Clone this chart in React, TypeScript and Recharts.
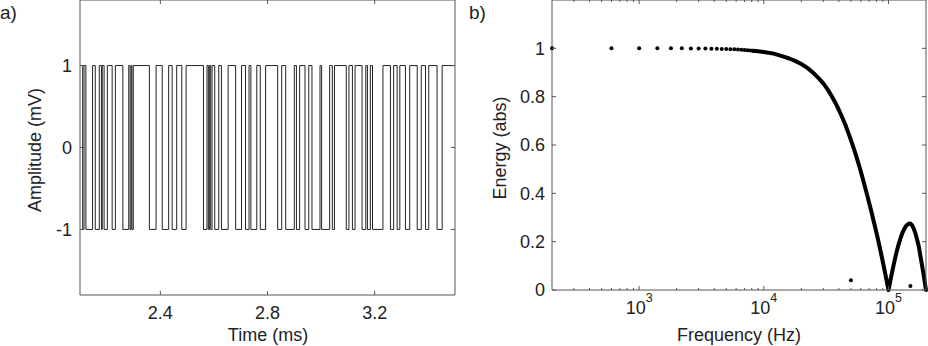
import React from 'react';
import { LineChart, Line, XAxis, YAxis, ComposedChart, Scatter } from 'recharts';

// ---------- Panel a: binary waveform ----------
const waveTimes = [
  2.100, 2.110, 2.115, 2.122, 2.147, 2.157, 2.172, 2.180, 2.183, 2.190,
  2.202, 2.220, 2.232, 2.260, 2.282, 2.287, 2.291, 2.294, 2.299, 2.359,
  2.384, 2.407, 2.431, 2.444, 2.461, 2.480, 2.496, 2.561, 2.574, 2.579,
  2.583, 2.588, 2.593, 2.603, 2.618, 2.628, 2.653, 2.681, 2.703, 2.718,
  2.731, 2.738, 2.760, 2.773, 2.793, 2.838, 2.853, 2.868, 2.900, 2.908,
  2.920, 2.940, 2.954, 2.966, 2.996, 3.002, 3.032, 3.042, 3.050, 3.094,
  3.104, 3.117, 3.127, 3.153, 3.167, 3.173, 3.184, 3.192, 3.231, 3.259,
  3.271, 3.284, 3.294, 3.315, 3.331, 3.359, 3.374, 3.390, 3.402, 3.433,
  3.452, 3.500,
];
const waveLevels = [
  1, -1, 1, -1, 1, -1, 1, -1, 1, -1,
  1, -1, 1, -1, 1, -1, 1, -1, 1, -1,
  1, -1, 1, -1, 1, -1, 1, -1, 1, -1,
  1, -1, 1, -1, 1, -1, 1, -1, 1, -1,
  1, -1, 1, -1, 1, -1, 1, -1, 1, -1,
  1, -1, 1, -1, 1, -1, 1, -1, 1, -1,
  1, -1, 1, -1, 1, -1, 1, -1, 1, -1,
  1, -1, 1, -1, 1, -1, 1, -1, 1, -1,
  1, 1,
];
const timeTicks = [2.4, 2.8, 3.2];
const ampTicks = [-1, 0, 1];

// ---------- Panel b: spectrum ----------
const dotFreqs = [200, 600, 1000, 1400, 1800, 2200, 2600, 3000, 3400, 3800, 4200, 4600, 5000, 5400, 5800, 6200, 6600, 7000, 7400, 7800, 8200];
const dotEnergy = [1, 1, 1, 1, 1, 1, 0.999, 0.999, 0.999, 0.998, 0.998, 0.997, 0.997, 0.996, 0.996, 0.995, 0.994, 0.993, 0.992, 0.991, 0.99];

const curveFreqs = [
  8200, 9000, 10000, 12000, 14000, 16000, 18000, 20000, 22500, 25000,
  27500, 30000, 32500, 35000, 37500, 40000, 42500, 45000, 47500, 50000,
  52500, 55000, 57500, 60000, 62500, 65000, 67500, 70000, 72500, 75000,
  77500, 80000, 82500, 85000, 87500, 90000, 92500, 95000, 97500, 100000,
  102500, 105000, 107500, 110000, 115000, 120000, 125000, 130000, 135000, 140000,
  145000, 148000, 150000, 155000, 160000, 165000, 170000, 175000, 180000, 185000,
  190000, 195000, 200000,
];
const curveEnergy = [
  0.99, 0.988, 0.985, 0.978, 0.968, 0.958, 0.947, 0.935, 0.918, 0.898,
  0.877, 0.855, 0.83, 0.803, 0.775, 0.745, 0.715, 0.685, 0.652, 0.62,
  0.588, 0.556, 0.523, 0.49, 0.457, 0.424, 0.392, 0.36, 0.33, 0.298,
  0.268, 0.238, 0.208, 0.178, 0.148, 0.118, 0.088, 0.058, 0.029, 0.0,
  0.027, 0.054, 0.079, 0.104, 0.148, 0.185, 0.215, 0.239, 0.256, 0.268,
  0.274, 0.275, 0.275, 0.267, 0.252, 0.232, 0.207, 0.181, 0.143, 0.108,
  0.073, 0.036, 0.0,
];
const strayFreqs = [50000, 150000];
const strayEnergy = [0.04, 0.017];

const freqMajorTicks = [1000, 10000, 100000];
const freqMinorTicks = [
  300, 400, 500, 600, 700, 800, 900,
  2000, 3000, 4000, 5000, 6000, 7000, 8000, 9000,
  20000, 30000, 40000, 50000, 60000, 70000, 80000, 90000,
];
const energyTicks = [0, 0.2, 0.4, 0.6, 0.8, 1];

// ---------- tables built from the arrays ----------
const waveData = waveTimes.map((t, i) => ({ t, v: waveLevels[i] }));
const dotData = dotFreqs.map((f, i) => ({ f, e: dotEnergy[i] }));
const curveData = curveFreqs.map((f, i) => ({ f, e: curveEnergy[i] }));
const strayData = strayFreqs.map((f, i) => ({ f, e: strayEnergy[i] }));
const freqAllTicks = [...freqMinorTicks, ...freqMajorTicks].sort((a, b) => a - b);

const FONT = '"Liberation Sans", Arial, Helvetica, sans-serif';
const AXIS = '#555';
const TXT = '#222';
const FS = 18;
const EPS = 0.01;

const tickStyle = { fill: TXT, fontSize: FS, fontFamily: FONT };

const PowTick = (props: any) => {
  const { x, y, payload } = props;
  const exp = Math.round(Math.log10(payload.value));
  return (
    <text x={x} y={y} textAnchor="middle" fill={TXT} fontFamily={FONT} fontSize={FS}>
      <tspan dy={13}>10</tspan>
      <tspan dy={-12} fontSize={12.5}>{exp}</tspan>
    </text>
  );
};

// inward tick mark drawn at the tick position given by the axis
const Mark = (props: any) => {
  const { x, y, payload, side, majors } = props;
  const major = !majors || majors.includes(payload.value);
  const len = major ? 4 : 2;
  let x2 = x;
  let y2 = y;
  if (side === 'bottom') y2 = y - len;
  if (side === 'top') y2 = y + len;
  if (side === 'left') x2 = x + len;
  if (side === 'right') x2 = x - len;
  return <line x1={x} y1={y} x2={x2} y2={y2} stroke={AXIS} strokeWidth={1} />;
};

const Dot = (props: any) => {
  const { cx, cy } = props;
  if (cx == null || cy == null) return <g />;
  return <circle cx={cx} cy={cy} r={2} fill="#000" />;
};

const markAxisCommon = {
  tickLine: false,
  tickSize: 0,
  tickMargin: 0,
  interval: 0 as const,
  allowDataOverflow: true,
};

export default function App() {
  return (
    <div style={{ position: 'absolute', left: 0, top: 0, width: 928, height: 346, background: '#fff', overflow: 'hidden' }}>
      <div style={{ position: 'absolute', left: 0, top: 0 }}>
        <LineChart width={470} height={346} data={waveData} margin={{ top: 0, right: 15, bottom: 0, left: 0 }}>
          <XAxis
            xAxisId="b" dataKey="t" type="number" domain={[2.1, 3.5]} allowDataOverflow interval={0}
            ticks={timeTicks} height={51} tickLine={false} tickSize={5} tickMargin={6}
            axisLine={{ stroke: AXIS }} tick={tickStyle} tickFormatter={(v: number) => v.toFixed(1)}
          />
          <XAxis
            xAxisId="bm" dataKey="t" type="number" domain={[2.1, 3.5]} {...markAxisCommon}
            ticks={timeTicks} height={EPS} mirror axisLine={false}
            tick={(p: any) => <Mark {...p} side="bottom" />}
          />
          <XAxis
            xAxisId="tm" dataKey="t" orientation="top" type="number" domain={[2.1, 3.5]} {...markAxisCommon}
            ticks={timeTicks} height={EPS} mirror axisLine={{ stroke: AXIS }}
            tick={(p: any) => <Mark {...p} side="top" />}
          />
          <YAxis
            yAxisId="l" type="number" domain={[-1.8, 1.8]} allowDataOverflow ticks={ampTicks} interval={0}
            width={80} tickLine={false} tickSize={4} tickMargin={4}
            axisLine={{ stroke: AXIS }} tick={tickStyle}
          />
          <YAxis
            yAxisId="lm" type="number" domain={[-1.8, 1.8]} {...markAxisCommon} ticks={ampTicks}
            width={EPS} mirror axisLine={false}
            tick={(p: any) => <Mark {...p} side="left" />}
          />
          <YAxis
            yAxisId="rm" orientation="right" type="number" domain={[-1.8, 1.8]} {...markAxisCommon} ticks={ampTicks}
            width={EPS} mirror axisLine={{ stroke: AXIS }}
            tick={(p: any) => <Mark {...p} side="right" />}
          />
          <Line
            xAxisId="b" yAxisId="l" type="stepAfter" dataKey="v" stroke="#222" strokeWidth={1}
            dot={false} activeDot={false} isAnimationActive={false}
          />
        </LineChart>
      </div>

      <div style={{ position: 'absolute', left: 470, top: 0 }}>
        <ComposedChart width={458} height={346} margin={{ top: 0, right: 2, bottom: 0, left: 0 }}>
          <XAxis
            xAxisId="b" dataKey="f" type="number" scale="log" domain={[200, 200000]} interval={0}
            ticks={freqMajorTicks} height={56} tickLine={false} tickSize={5} tickMargin={6}
            axisLine={{ stroke: AXIS }} tick={<PowTick />}
          />
          <XAxis
            xAxisId="bm" dataKey="f" type="number" scale="log" domain={[200, 200000]} {...markAxisCommon}
            ticks={freqAllTicks} height={EPS} mirror axisLine={false}
            tick={(p: any) => <Mark {...p} side="bottom" majors={freqMajorTicks} />}
          />
          <XAxis
            xAxisId="tm" dataKey="f" orientation="top" type="number" scale="log" domain={[200, 200000]} {...markAxisCommon}
            ticks={freqAllTicks} height={EPS} mirror axisLine={{ stroke: AXIS }}
            tick={(p: any) => <Mark {...p} side="top" majors={freqMajorTicks} />}
          />
          <YAxis
            yAxisId="l" dataKey="e" type="number" domain={[0, 1.2]} ticks={energyTicks} interval={0}
            width={82} tickLine={false} tickSize={4} tickMargin={3}
            axisLine={{ stroke: AXIS }} tick={tickStyle}
          />
          <YAxis
            yAxisId="lm" dataKey="e" type="number" domain={[0, 1.2]} {...markAxisCommon} ticks={energyTicks}
            width={EPS} mirror axisLine={false}
            tick={(p: any) => <Mark {...p} side="left" />}
          />
          <YAxis
            yAxisId="rm" dataKey="e" orientation="right" type="number" domain={[0, 1.2]} {...markAxisCommon} ticks={energyTicks}
            width={EPS} mirror axisLine={{ stroke: AXIS }}
            tick={(p: any) => <Mark {...p} side="right" />}
          />
          <Line
            xAxisId="b" yAxisId="l" data={curveData} dataKey="e" type="linear" stroke="#000" strokeWidth={4}
            strokeLinejoin="round" strokeLinecap="round"
            dot={false} activeDot={false} isAnimationActive={false}
          />
          <Scatter xAxisId="b" yAxisId="l" data={dotData} dataKey="e" shape={<Dot />} isAnimationActive={false} />
          <Scatter xAxisId="b" yAxisId="l" data={strayData} dataKey="e" shape={<Dot />} isAnimationActive={false} />
        </ComposedChart>
      </div>

      <svg width={928} height={346} style={{ position: 'absolute', left: 0, top: 0, pointerEvents: 'none' }}>
        <g fontFamily={FONT} fill={TXT}>
          <text x={0} y={19} fontSize={19}>a)</text>
          <text x={469} y={19} fontSize={19}>b)</text>
          <text x={268} y={341} fontSize={FS} textAnchor="middle">Time (ms)</text>
          <text x={739} y={341} fontSize={FS} textAnchor="middle">Frequency (Hz)</text>
          <text x={41} y={150} fontSize={FS} textAnchor="middle" transform="rotate(-90 41 150)">Amplitude (mV)</text>
          <text x={506} y={148} fontSize={FS} textAnchor="middle" transform="rotate(-90 506 148)">Energy (abs)</text>
        </g>
      </svg>
    </div>
  );
}
